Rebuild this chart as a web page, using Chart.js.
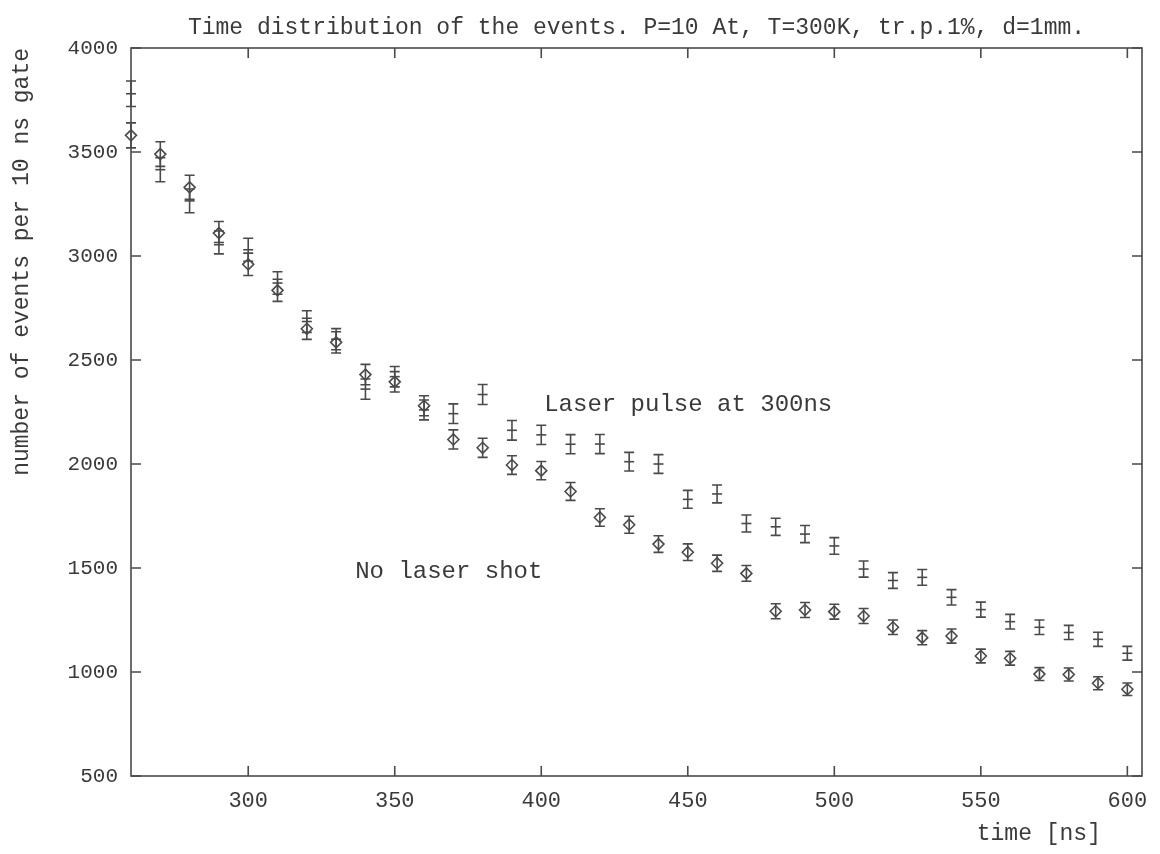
<!DOCTYPE html>
<html>
<head>
<meta charset="utf-8">
<title>Time distribution of the events</title>
<script src="https://cdn.jsdelivr.net/npm/chart.js@4.4.1/dist/chart.umd.min.js"></script>
<style>
  html, body { margin: 0; padding: 0; background: #fff; }
  #wrap { width: 1160px; height: 854px; }
</style>
</head>
<body>
<div id="wrap"><canvas id="chart" width="1160" height="854"></canvas></div>
<script>
// time bins (ns), one point per 10 ns gate
const timeNs = [260, 270, 280, 290, 300, 310, 320, 330, 340, 350, 360, 370, 380, 390, 400, 410, 420, 430,
  440, 450, 460, 470, 480, 490, 500, 510, 520, 530, 540, 550, 560, 570, 580, 590, 600];

// "No laser shot" (diamonds)
const noLaserCounts = [3580, 3490, 3330, 3110, 2960, 2835, 2650, 2585, 2430, 2395, 2280, 2118, 2078, 1995,
  1968, 1868, 1743, 1708, 1615, 1576, 1523, 1474, 1292, 1298, 1290, 1269, 1215, 1165, 1173, 1077, 1066,
  990, 988, 946, 917];
const noLaserErr = [60, 59, 58, 56, 54, 53, 51, 51, 49, 49, 48, 46, 46, 45, 44, 43, 42, 41, 40, 40, 39, 38,
  36, 36, 36, 36, 35, 34, 34, 33, 33, 31, 31, 31, 30];

// "Laser pulse at 300ns" (error bars only)
const laserCounts = [3780, 3415, 3265, 3065, 3030, 2870, 2685, 2600, 2360, 2420, 2260, 2242, 2334, 2162,
  2140, 2095, 2096, 2011, 2000, 1830, 1856, 1714, 1698, 1663, 1606, 1495, 1440, 1455, 1359, 1300, 1242,
  1215, 1190, 1157, 1090];
const laserErr = [61, 58, 57, 55, 55, 54, 52, 51, 49, 49, 48, 47, 48, 47, 46, 46, 46, 45, 45, 43, 43, 41,
  41, 41, 40, 39, 38, 38, 37, 36, 35, 35, 34, 34, 33];

const xTickValues = [300, 350, 400, 450, 500, 550, 600];
const yTickValues = [500, 1000, 1500, 2000, 2500, 3000, 3500, 4000];

const INK = '#4a4a4a';
const TEXT = '#3a3a3a';
const MONO = '"Liberation Mono", "DejaVu Sans Mono", monospace';

// vertical error bars with caps, drawn through the chart scales
const errorBarPlugin = {
  id: 'errorBars',
  afterDatasetsDraw(chart) {
    const { ctx, scales: { x, y } } = chart;
    ctx.save();
    chart.data.datasets.forEach(ds => {
      if (!ds.errors) return;
      ctx.strokeStyle = ds.borderColor;
      ctx.lineWidth = 1.6;
      ds.data.forEach((pt, i) => {
        const px = x.getPixelForValue(pt.x);
        const top = y.getPixelForValue(pt.y + ds.errors[i]);
        const bot = y.getPixelForValue(pt.y - ds.errors[i]);
        ctx.beginPath();
        ctx.moveTo(px, top); ctx.lineTo(px, bot);
        ctx.moveTo(px - 5, top); ctx.lineTo(px + 5, top);
        ctx.moveTo(px - 5, bot); ctx.lineTo(px + 5, bot);
        ctx.stroke();
      });
    });
    ctx.restore();
  }
};

// gnuplot-like box with inward ticks on all four sides
const framePlugin = {
  id: 'frame',
  afterDraw(chart) {
    const { ctx, chartArea: a, scales: { x, y } } = chart;
    const len = 10;
    ctx.save();
    ctx.strokeStyle = INK;
    ctx.lineWidth = 1.6;
    ctx.strokeRect(a.left, a.top, a.right - a.left, a.bottom - a.top);
    ctx.beginPath();
    xTickValues.forEach(v => {
      const px = x.getPixelForValue(v);
      ctx.moveTo(px, a.bottom); ctx.lineTo(px, a.bottom - len);
      ctx.moveTo(px, a.top); ctx.lineTo(px, a.top + len);
    });
    yTickValues.forEach(v => {
      const py = y.getPixelForValue(v);
      ctx.moveTo(a.left, py); ctx.lineTo(a.left + len, py);
      ctx.moveTo(a.right, py); ctx.lineTo(a.right - len, py);
    });
    ctx.stroke();
    ctx.restore();
  }
};

// curve labels and the x axis label
const labelPlugin = {
  id: 'labels',
  afterDraw(chart) {
    const { ctx, chartArea: a, scales: { x, y } } = chart;
    ctx.save();
    ctx.fillStyle = TEXT;
    ctx.font = '24px ' + MONO;
    ctx.textBaseline = 'middle';
    ctx.textAlign = 'left';
    ctx.fillText('Laser pulse at 300ns', x.getPixelForValue(401), y.getPixelForValue(2284));
    ctx.fillText('No laser shot', x.getPixelForValue(336.5), y.getPixelForValue(1481));
    ctx.font = '23px ' + MONO;
    ctx.textAlign = 'right';
    ctx.fillText('time [ns]', x.getPixelForValue(591), a.bottom + 58);
    ctx.restore();
  }
};

const ctx = document.getElementById('chart').getContext('2d');
new Chart(ctx, {
  type: 'scatter',
  data: {
    datasets: [
      {
        label: 'No laser shot',
        data: timeNs.map((t, i) => ({ x: t, y: noLaserCounts[i] })),
        errors: noLaserErr,
        pointStyle: 'rectRot',
        pointRadius: 5.5,
        pointBorderWidth: 1.6,
        borderColor: INK,
        backgroundColor: 'rgba(0,0,0,0)',
        showLine: false,
        clip: false
      },
      {
        label: 'Laser pulse at 300ns',
        data: timeNs.map((t, i) => ({ x: t, y: laserCounts[i] })),
        errors: laserErr,
        pointStyle: 'line',
        pointRadius: 5,
        pointBorderWidth: 1.6,
        borderColor: INK,
        backgroundColor: INK,
        showLine: false,
        clip: false
      }
    ]
  },
  options: {
    responsive: false,
    animation: false,
    layout: { padding: { left: 0, right: 18, top: 0, bottom: 0 } },
    scales: {
      x: {
        type: 'linear',
        min: 260,
        max: 605,
        afterBuildTicks: (scale) => { scale.ticks = xTickValues.map(v => ({ value: v })); },
        afterFit: (scale) => { scale.height = 78; },
        grid: { display: false, drawTicks: false },
        border: { display: false },
        ticks: { color: TEXT, font: { family: MONO, size: 22 }, padding: 12, maxRotation: 0,
          callback: (v) => String(v) }
      },
      y: {
        type: 'linear',
        min: 500,
        max: 4000,
        afterBuildTicks: (scale) => { scale.ticks = yTickValues.map(v => ({ value: v })); },
        afterFit: (scale) => { scale.width = 131; },
        grid: { display: false, drawTicks: false },
        border: { display: false },
        ticks: { color: TEXT, font: { family: MONO, size: 21 }, padding: 13,
          callback: (v) => String(v) },
        title: {
          display: true,
          text: 'number of events per 10 ns gate',
          align: 'end',
          color: TEXT,
          font: { family: MONO, size: 23 },
          padding: { top: 8, bottom: 0 }
        }
      }
    },
    plugins: {
      legend: { display: false },
      tooltip: { enabled: false },
      title: {
        display: true,
        fullSize: false,
        text: 'Time distribution of the events. P=10 At, T=300K, tr.p.1%, d=1mm.',
        color: TEXT,
        font: { family: MONO, size: 23, weight: 'normal' },
        padding: { top: 14, bottom: 6.4 }
      }
    }
  },
  plugins: [errorBarPlugin, framePlugin, labelPlugin]
});
</script>
</body>
</html>
